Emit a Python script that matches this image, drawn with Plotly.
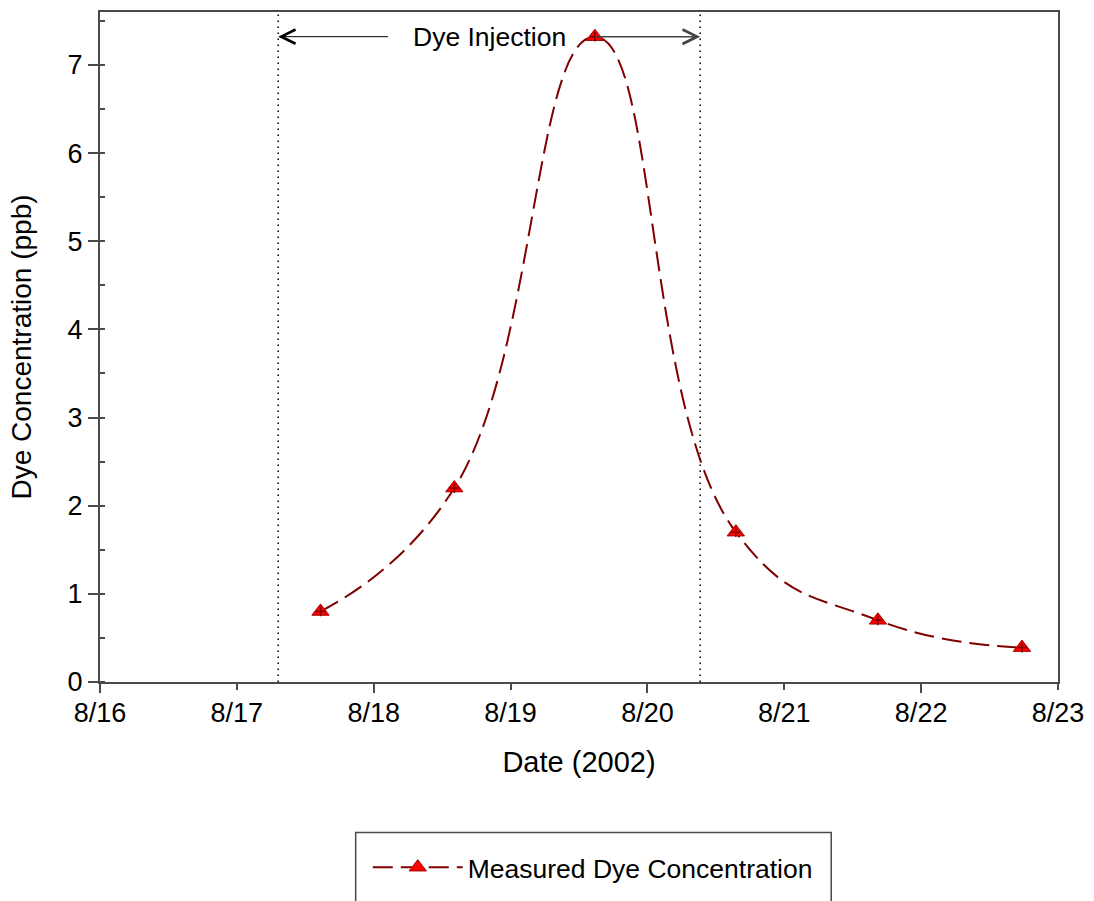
import plotly.graph_objects as go
import pandas as pd

# ---- data ----
sample_times = ["2002-08-17 14:40", "2002-08-18 14:08", "2002-08-19 14:47",
                "2002-08-20 15:30", "2002-08-21 16:25", "2002-08-22 17:41"]
dye_ppb = [0.80, 2.20, 7.32, 1.70, 0.70, 0.39]
injection_start = "2002-08-17 07:15"
injection_end = "2002-08-20 09:15"
series_name = "Measured Dye Concentration"
x_range = ["2002-08-16", "2002-08-23"]
y_range = [0, 7.6]

FONT = "Liberation Sans, Arial, sans-serif"
AX = "#4a4a4a"
LINE = "#800000"

t0 = pd.Timestamp(injection_start)
t1 = pd.Timestamp(injection_end)
tmid = t0 + (t1 - t0) / 2
label_y = 7.32

fig = go.Figure()
fig.add_trace(go.Scatter(
    x=sample_times, y=dye_ppb, name=series_name, mode="lines+markers",
    line=dict(color=LINE, width=2, dash="20px,8px", shape="spline", smoothing=1.3),
    marker=dict(symbol="triangle-up", size=15, color="#ff0000",
                line=dict(color="#a00000", width=1)),
))
fig.add_trace(go.Scatter(
    x=sample_times, y=dye_ppb, mode="markers", showlegend=False, hoverinfo="skip",
    marker=dict(symbol="cross-thin", size=7, line=dict(color="#800000", width=1.5)),
))
# overlay axis carrying the long ticks at even days
fig.add_trace(go.Scatter(x=x_range, y=[None, None], xaxis="x2", showlegend=False,
                         hoverinfo="skip", mode="lines"))

for t in (injection_start, injection_end):
    fig.add_shape(type="line", x0=t, x1=t, y0=0, y1=1, xref="x", yref="y domain",
                  line=dict(color="black", width=1.5, dash="1.5px,4.5px"))

# legend frame
fig.add_shape(type="rect", xref="paper", yref="paper", x0=0.2669, x1=0.7633,
              y0=-0.36, y1=-0.2247, line=dict(color=AX, width=1.5),
              fillcolor="rgba(0,0,0,0)")

fig.add_annotation(x=tmid, y=label_y, text="Dye Injection", showarrow=False,
                   font=dict(family=FONT, size=26.5, color="black"))
fig.add_annotation(x=t0, y=label_y, ax=tmid - pd.Timedelta(hours=17.5), ay=label_y,
                   axref="x", ayref="y", text="", showarrow=True, arrowhead=5,
                   arrowsize=2.8, arrowwidth=1, arrowcolor="black")
fig.add_annotation(x=t1, y=label_y, ax=tmid + pd.Timedelta(hours=18.3), ay=label_y,
                   axref="x", ayref="y", text="", showarrow=True, arrowhead=5,
                   arrowsize=1.9, arrowwidth=1.5, arrowcolor="#444")

fig.update_layout(
    width=1094, height=901,
    margin=dict(l=100, r=35, t=10, b=219),
    paper_bgcolor="white", plot_bgcolor="white",
    font=dict(family=FONT, size=27, color="black"),
    showlegend=True,
    legend=dict(x=0.2795, y=-0.2768, xanchor="left", yanchor="middle",
                borderwidth=0, bgcolor="rgba(0,0,0,0)", itemwidth=90,
                font=dict(family=FONT, size=26.5)),
    xaxis=dict(type="date", range=x_range, dtick=86400000, tick0="2002-08-16",
               tickformat="%-m/%-d", ticks="outside", ticklen=6, tickwidth=1.5,
               tickcolor=AX, showline=True, linecolor=AX, linewidth=2, mirror=True,
               showgrid=False, zeroline=False,
               title=dict(text="Date (2002)", font=dict(size=29), standoff=24)),
    xaxis2=dict(type="date", range=x_range, overlaying="x", side="bottom",
                dtick=2 * 86400000, tick0="2002-08-16", ticks="outside", ticklen=10,
                tickwidth=1.5, tickcolor=AX, showticklabels=False, showline=False,
                showgrid=False, zeroline=False),
    yaxis=dict(range=y_range, dtick=1, ticks="outside", ticklen=10, tickwidth=1.5,
               tickcolor=AX, showline=True, linecolor=AX, linewidth=2, mirror=True,
               showgrid=False, zeroline=False,
               minor=dict(dtick=0.5, ticks="inside", ticklen=5, tickcolor=AX,
                          tickwidth=1.5),
               title=dict(text="Dye Concentration (ppb)", font=dict(size=28),
                          standoff=28)),
)

fig.write_html("out.html")
